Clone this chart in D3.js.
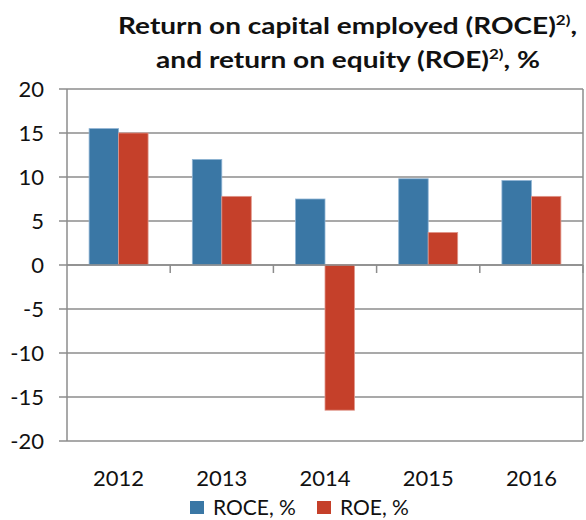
<!DOCTYPE html>
<html>
<head>
<meta charset="utf-8">
<script src="https://cdn.jsdelivr.net/npm/d3@7"></script>
<style>
  body { margin: 0; background: #fff; }
  svg { display: block; font-family: Lato, "Open Sans", sans-serif; }
</style>
</head>
<body>
<svg id="chart" width="586" height="520"></svg>
<script>
// chart data
const years = ["2012", "2013", "2014", "2015", "2016"];
const roce = [15.5, 12.0, 7.5, 9.8, 9.6];
const roe = [15.0, 7.8, -16.5, 3.7, 7.8];
const seriesNames = ["ROCE, %", "ROE, %"];
const yTicks = [20, 15, 10, 5, 0, -5, -10, -15, -20];

const colors = ["#3a77a5", "#c5402a"];
const edge = ["#8fb4d4", "#e0968a"];
const gridCol = "#8c8c8c";

const svg = d3.select("#chart");
const plot = { left: 67, right: 583, top: 89, bottom: 441 };

const x = d3.scaleBand()
    .domain(years)
    .range([plot.left, plot.right]);

const y = d3.scaleLinear()
    .domain([-20, 20])
    .range([plot.bottom, plot.top]);

// excel style columns, gap width 150%
const barW = x.bandwidth() / 3.5;
const sub = d3.scaleBand()
    .domain([0, 1])
    .range([0, barW * 2]);

// grid lines (with little ticks left of the axis)
svg.append("g")
    .selectAll("line")
    .data(yTicks)
    .join("line")
    .attr("x1", plot.left - 8)
    .attr("x2", plot.right)
    .attr("y1", d => y(d))
    .attr("y2", d => y(d))
    .attr("stroke", gridCol)
    .attr("stroke-width", 1.5);

svg.append("line")
    .attr("x1", plot.right).attr("x2", plot.right)
    .attr("y1", plot.top).attr("y2", plot.bottom)
    .attr("stroke", gridCol).attr("stroke-width", 1.5);

const series = [roce, roe];
series.forEach((vals, si) => {
    svg.append("g")
        .selectAll("rect")
        .data(vals)
        .join("rect")
        .attr("x", (d, i) => x(years[i]) + (x.bandwidth() - barW * 2) / 2 + sub(si))
        .attr("y", d => y(Math.max(0, d)))
        .attr("width", barW)
        .attr("height", d => Math.abs(y(d) - y(0)))
        .attr("fill", colors[si])
        .attr("stroke", edge[si])
        .attr("stroke-width", 0.8);
});

// category axis on the zero line
svg.append("line")
    .attr("x1", plot.left).attr("x2", plot.right)
    .attr("y1", y(0)).attr("y2", y(0))
    .attr("stroke", gridCol).attr("stroke-width", 1.5);

svg.append("g")
    .selectAll("line")
    .data(years)
    .join("line")
    .attr("x1", d => x(d) + x.step())
    .attr("x2", d => x(d) + x.step())
    .attr("y1", y(0))
    .attr("y2", y(0) + 8)
    .attr("stroke", gridCol)
    .attr("stroke-width", 1.5);

svg.append("line")
    .attr("x1", plot.left).attr("x2", plot.left)
    .attr("y1", plot.top).attr("y2", plot.bottom)
    .attr("stroke", gridCol).attr("stroke-width", 1.5);

// y labels
svg.append("g")
    .selectAll("text")
    .data(yTicks)
    .join("text")
    .attr("x", 44)
    .attr("y", d => y(d))
    .attr("dy", "0.36em")
    .attr("text-anchor", "end")
    .attr("font-size", 22)
    .attr("fill", "#111")
    .text(d => d);

// x labels
svg.append("g")
    .selectAll("text")
    .data(years)
    .join("text")
    .attr("x", d => x(d) + x.bandwidth() / 2)
    .attr("y", 486)
    .attr("text-anchor", "middle")
    .attr("font-size", 22)
    .attr("fill", "#111")
    .text(d => d);

// title, two lines, stretched to the reference width
function titleLine(parts, cx, baseline, width) {
    const g = svg.append("g").attr("transform", `translate(${cx},${baseline})`);
    const t = g.append("text")
        .attr("text-anchor", "middle")
        .attr("font-size", 23)
        .attr("font-weight", "bold")
        .attr("fill", "#111");
    t.append("tspan").text(parts[0]);
    t.append("tspan").attr("font-size", 14).attr("dy", -9).text("2)");
    t.append("tspan").attr("dy", 9).text(parts[1]);
    const w = t.node().getComputedTextLength();
    t.attr("transform", `scale(${width / w},1)`);
}
titleLine(["Return on capital employed (ROCE)", ","], 347.5, 34, 459);
titleLine(["and return on equity (ROE)", ", %"], 348, 68, 384);

// legend
const legendX = [190, 317];
const leg = svg.append("g")
    .selectAll("g")
    .data(seriesNames)
    .join("g")
    .attr("transform", (d, i) => `translate(${legendX[i]},501)`);
leg.append("rect")
    .attr("width", 14)
    .attr("height", 13)
    .attr("fill", (d, i) => colors[i]);
leg.append("text")
    .attr("x", 23)
    .attr("y", 14)
    .attr("font-size", 21)
    .attr("fill", "#111")
    .text(d => d);
</script>
</body>
</html>
